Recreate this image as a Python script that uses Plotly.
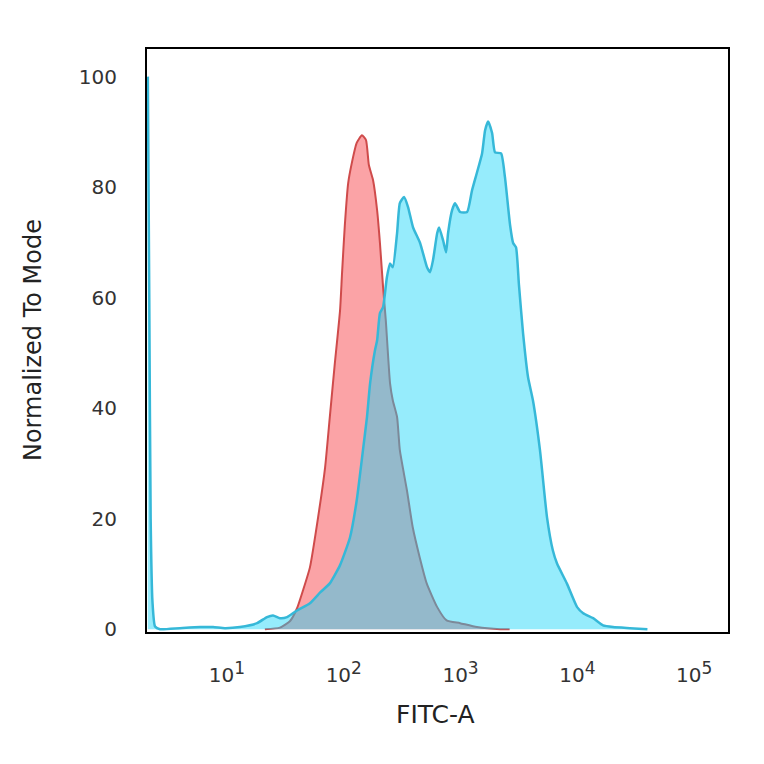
import plotly.graph_objects as go

# Isotype control (red) histogram: FITC-A value, normalized count
red_x = [21.1, 28.4, 34.7, 39.8, 44.7, 51.3, 60.3, 69.2, 75.9, 83.2, 92.9, 96.6, 102, 109, 117,
         129, 143, 155, 164, 178, 193, 204, 217, 229, 249, 263, 286, 302, 347, 389, 447, 513,
         631, 759, 991, 1380, 2188, 2630]
red_y = [0, 0.3, 1.5, 3.8, 7, 11.2, 20.3, 29.3, 38.4, 47.4, 57.7, 64.4, 73, 80.7, 84.3,
         88, 89.4, 88.5, 84, 81.3, 75.8, 69.9, 61.9, 55.9, 44.5, 41.4, 38.4, 32.4, 25.2, 18.5, 13, 8.3,
         4, 1.6, 1.1, 0.4, 0, 0]

# Stained sample (cyan) histogram
cyan_x = [2.10, 2.16, 2.22, 2.30, 2.42, 2.67, 3.95, 5.9, 7.6, 9.6, 12.9, 18.1, 22.0, 24.8, 28.4,
          32.7, 39.8, 51.3, 63.1, 75.9, 92.9, 113, 129, 146, 158, 168, 185, 193, 204, 217,
          234, 249, 263, 286, 302, 328, 355, 392, 450, 516, 548, 581, 631, 655, 708, 752,
          782, 845, 897, 991, 1138, 1253, 1384, 1528, 1622, 1722, 1862, 1972, 2223, 2399,
          2655, 2818, 2985, 3162, 3428, 3784, 4169, 4786, 5495, 6166, 6699, 8128, 9954,
          11220, 13646, 16596, 20230, 28184, 39811]
cyan_y = [100, 60, 20, 5, 0.5, 0, 0.2, 0.4, 0.4, 0.2, 0.4, 1.1, 2.2, 2.5, 2.0,
          2.2, 3.4, 4.7, 6.7, 8.3, 11.6, 16.6, 23.3, 32.4, 38.4, 44.5, 50.5, 52.3, 57.2, 58.3,
          63.7, 66.2, 65.5, 71.7, 77.1, 78.2, 76.4, 72.7, 69.9, 65.5, 64.6, 66.8, 71.7, 72.7, 70.4, 68.2,
          71.7, 75.8, 77.1, 75.5, 75.5, 79.4, 82.7, 86.1, 90.3, 91.9, 89.8, 86.3, 86.1, 81.8,
          73.1, 69.9, 69.1, 62.3, 53.6, 45.6, 41.4, 32.4, 20.3, 14.3, 11.9, 8.3, 4.0,
          2.9, 2.0, 0.7, 0.4, 0.2, 0]

y_ticks = [0, 20, 40, 60, 80, 100]
x_ticks = [10, 100, 1000, 10000, 100000]
x_exponents = ["1", "2", "3", "4", "5"]
x_ticktext = ['10<sup><span style="font-size:17px">%s</span></sup>' % e for e in x_exponents]

fig = go.Figure()
fig.add_trace(go.Scatter(
    x=red_x, y=red_y, mode="lines", fill="tozeroy",
    line=dict(color="#CF4B4B", width=2, shape="spline", smoothing=0.5),
    fillcolor="#FBA3A6", showlegend=False))
fig.add_trace(go.Scatter(
    x=cyan_x, y=cyan_y, mode="lines", fill="tozeroy",
    line=dict(color="#36B8D8", width=2.5, shape="spline", smoothing=0.5),
    fillcolor="rgba(22,213,249,0.45)", showlegend=False))

font_family = "DejaVu Sans"
fig.update_layout(
    width=764, height=764,
    margin=dict(l=139, r=44, t=41, b=140),
    paper_bgcolor="white", plot_bgcolor="white",
    font=dict(family=font_family, color="#333333"),
    xaxis=dict(type="log", range=[0.315, 5.29], tickvals=x_ticks, ticktext=x_ticktext,
               showgrid=False, zeroline=False, showline=True, mirror=True,
               linecolor="black", linewidth=2, ticks="outside", ticklen=24,
               tickcolor="rgba(0,0,0,0)", tickfont=dict(size=20, color="#333333")),
    yaxis=dict(range=[-0.5, 105], tickvals=y_ticks,
               showgrid=False, zeroline=False, showline=True, mirror=True,
               linecolor="black", linewidth=2, ticks="outside", ticklen=24,
               tickcolor="rgba(0,0,0,0)", tickfont=dict(size=20, color="#333333")),
    annotations=[
        dict(text="Normalized To Mode", x=-0.196, y=0.501, xref="paper", yref="paper",
             textangle=-90, showarrow=False, xanchor="center", yanchor="middle",
             font=dict(size=24, color="#222222", family=font_family)),
        dict(text="FITC-A", x=0.496, y=-0.141, xref="paper", yref="paper",
             showarrow=False, xanchor="center", yanchor="middle",
             font=dict(size=25, color="#222222", family=font_family)),
    ],
)

fig.write_html("out.html")
